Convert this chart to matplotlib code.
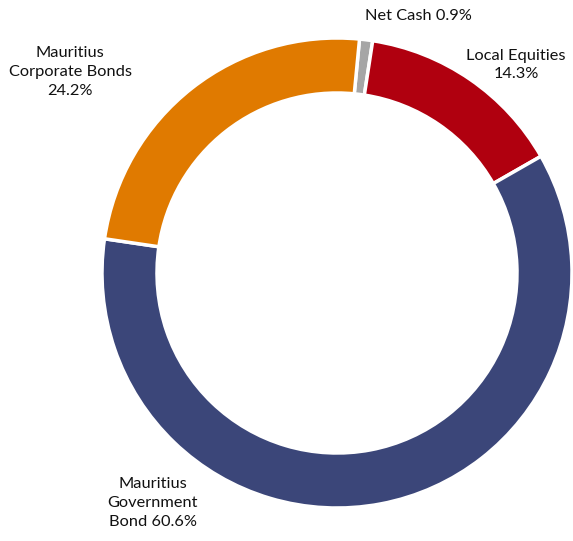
import matplotlib.pyplot as plt

labels = ["Net Cash 0.9%", "Local Equities\n14.3%", "Mauritius\nGovernment\nBond 60.6%",
          "Mauritius\nCorporate Bonds\n24.2%"]
values = [0.9, 14.3, 60.6, 24.2]
colors = ["#A6A6A6", "#B0000F", "#3B4679", "#E07A00"]

# label positions in data units (pie radius = 1)
label_pos = [(0.345, 1.094), (0.762, 0.885), (-0.783, -0.979), (-1.136, 0.855)]

plt.rcParams["font.family"] = ["Lato", "DejaVu Sans"]

fig = plt.figure(figsize=(5.73, 5.41), dpi=100)
cx, cy, r = 337, 273, 235
ax = fig.add_axes([(cx - r) / 573, (541 - cy - r) / 541, 2 * r / 573, 2 * r / 541])

ax.pie(values, colors=colors, startangle=84.5, counterclock=False, radius=1,
       wedgeprops=dict(width=0.234, edgecolor="white", linewidth=2.5))

for text, (x, y) in zip(labels, label_pos):
    ax.text(x, y, text, ha="center", va="center", fontsize=11.8,
            linespacing=1.45, color="#111111", clip_on=False)

ax.set_xlim(-1, 1)
ax.set_ylim(-1, 1)
ax.set_aspect("equal")
ax.axis("off")

fig.savefig("out.png", dpi=100)
